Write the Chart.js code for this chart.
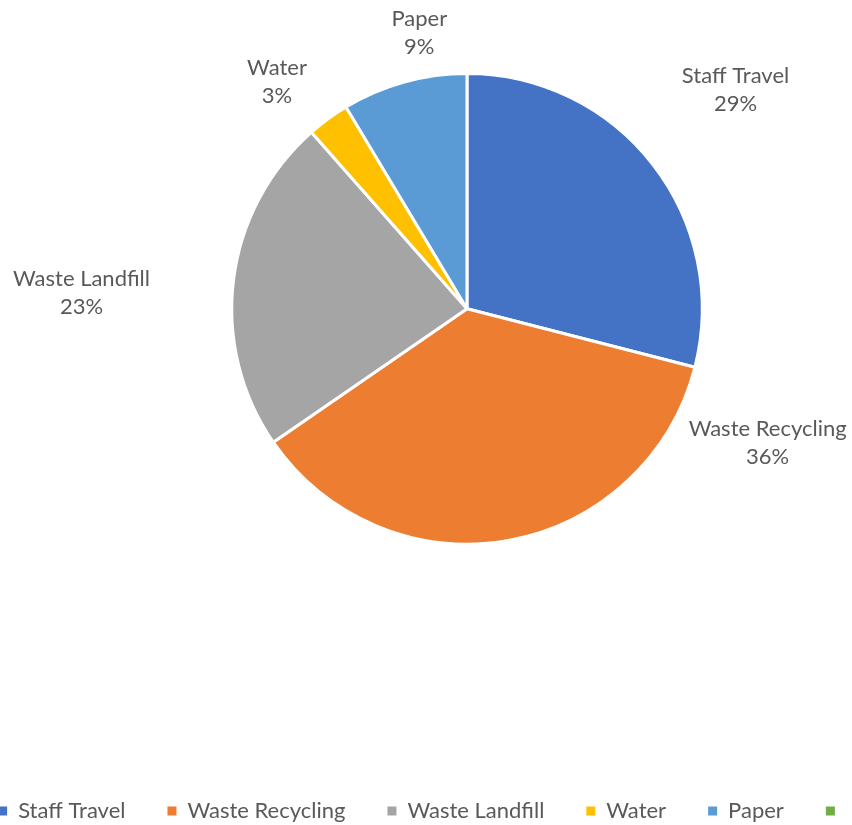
<!DOCTYPE html>
<html>
<head>
<meta charset="utf-8">
<script src="https://cdn.jsdelivr.net/npm/chart.js@4"></script>
<style>
    html, body { margin: 0; padding: 0; background: #fff; }
    #wrap { width: 852px; height: 825px; }
</style>
</head>
<body>
<div id="wrap"><canvas id="myChart"></canvas></div>
<script>
const categories = ["Staff Travel", "Waste Recycling", "Waste Landfill", "Water", "Paper", ""];
const shares = [29.0, 36.4, 23.1, 2.9, 8.6, 0];

// draws "name / xx%" outside each slice (Excel style best-fit spots)
const sliceLabels = {
    id: "sliceLabels",
    afterDatasetsDraw(chart, args, opts) {
        const ctx = chart.ctx;
        const meta = chart.getDatasetMeta(0);
        const data = chart.data.datasets[0].data;
        const total = data.reduce((a, b) => a + b, 0);
        ctx.save();
        ctx.font = "22px Lato";
        ctx.fillStyle = "#595959";
        ctx.textAlign = "center";
        ctx.textBaseline = "middle";
        meta.data.forEach((arc, i) => {
            if (!data[i]) return;
            const p = opts.placements[i];
            const a = ((p[0] - 90) * Math.PI) / 180;
            const r = arc.outerRadius * p[1];
            const x = arc.x + Math.cos(a) * r;
            const y = arc.y + Math.sin(a) * r;
            ctx.fillText(chart.data.labels[i], x, y - 14);
            ctx.fillText(Math.round((data[i] / total) * 100) + "%", x, y + 14);
        });
        ctx.restore();
    },
};

const ctx = document.getElementById("myChart");

new Chart(ctx, {
    type: "pie",
    data: {
        labels: categories,
        datasets: [
            {
                data: shares,
                backgroundColor: ["#4472C4", "#ED7D31", "#A5A5A5", "#FFC000", "#5B9BD5", "#70AD47"],
                borderColor: "#ffffff",
                borderWidth: 3,
            },
        ],
    },
    plugins: [sliceLabels],
    options: {
        responsive: true,
        maintainAspectRatio: false,
        animation: false,
        devicePixelRatio: 1,
        layout: {
            // negative sides so the legend fits on one row like the original
            padding: { top: 72, bottom: -7, left: -60, right: -52 },
        },
        plugins: {
            tooltip: { enabled: false },
            // empty title on the left just pushes the pie to the right
            title: {
                display: true,
                position: "left",
                text: "",
                font: { size: 10 },
                padding: { top: 0, bottom: 130 },
            },
            legend: {
                position: "bottom",
                title: {
                    display: true,
                    text: "",
                    font: { size: 10 },
                    padding: { top: 200.5, bottom: 0 },
                },
                labels: {
                    font: { family: "Lato", size: 22 },
                    color: "#595959",
                    boxWidth: 9,
                    boxHeight: 9,
                    padding: 42,
                    // no white outline on the legend squares
                    generateLabels(chart) {
                        return Chart.overrides.pie.plugins.legend.labels
                            .generateLabels(chart)
                            .map((item) => ({ ...item, lineWidth: 0 }));
                    },
                },
            },
            sliceLabels: {
                placements: [
                    [50.8, 1.473],
                    [114.1, 1.4],
                    [272.3, 1.64],
                    [320.1, 1.259],
                    [350.2, 1.192],
                    [0, 1],
                ],
            },
        },
    },
});
</script>
</body>
</html>
